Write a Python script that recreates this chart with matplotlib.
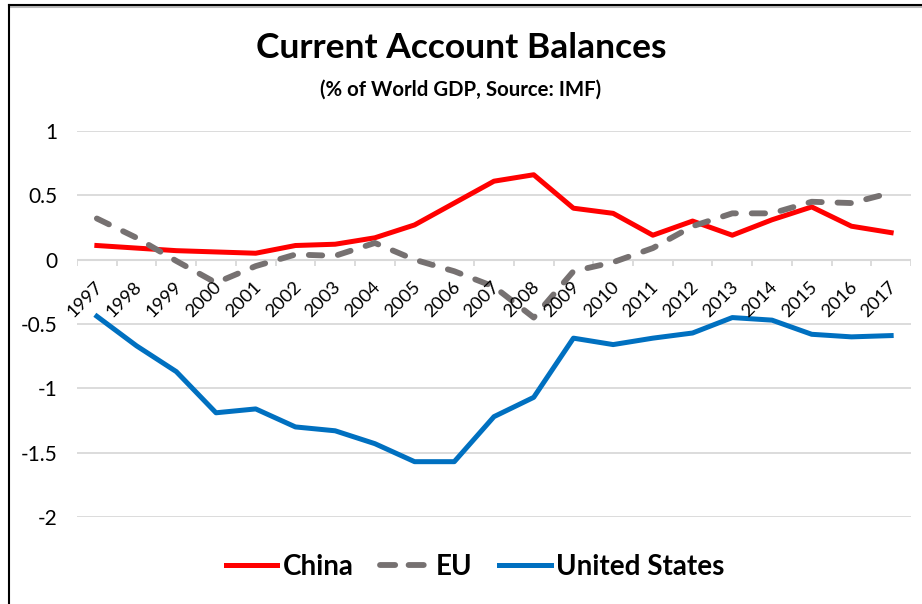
import numpy as np
import matplotlib
matplotlib.use("Agg")
import matplotlib.pyplot as plt
from matplotlib.lines import Line2D
from matplotlib.transforms import offset_copy

years = [str(y) for y in range(1997, 2018)]
china = [0.11, 0.09, 0.07, 0.06, 0.05, 0.11, 0.12, 0.17, 0.27, 0.44, 0.61,
         0.66, 0.40, 0.36, 0.19, 0.30, 0.19, 0.31, 0.41, 0.26, 0.21]
eu = [0.32, 0.17, -0.01, -0.18, -0.05, 0.04, 0.03, 0.13, 0.00, -0.09, -0.21,
      -0.45, -0.09, -0.02, 0.09, 0.26, 0.36, 0.36, 0.45, 0.44, 0.52]
us = [-0.44, -0.67, -0.87, -1.19, -1.16, -1.30, -1.33, -1.43, -1.57, -1.57, -1.22,
      -1.07, -0.61, -0.66, -0.61, -0.57, -0.45, -0.47, -0.58, -0.60, -0.59]
ytick_vals = [-2, -1.5, -1, -0.5, 0, 0.5, 1]
ytick_labels = ["-2", "-1.5", "-1", "-0.5", "0", "0.5", "1"]

plt.rcParams['font.family'] = ['Lato', 'DejaVu Sans']

W, H = 922, 604
fig = plt.figure(figsize=(W / 100, H / 100), dpi=100)
ax = fig.add_axes([77 / W, 1 - 517 / H, (911 - 77) / W, (517 - 131) / H])

x = np.arange(len(years))
ax.plot(x, china, color='#ff0000', lw=3.6, label='China', solid_joinstyle='round', zorder=3)
ax.plot(x, eu, color='#767171', lw=4.2, label='EU', dashes=(2.3, 2.7),
        dash_capstyle='round', zorder=3)
ax.plot(x, us, color='#0070c0', lw=3.6, label='United States', solid_joinstyle='round', zorder=3)

ax.set_xlim(-0.5, len(years) - 0.5)
ax.set_ylim(-2, 1)
ax.set_yticks(ytick_vals)
ax.set_yticklabels(ytick_labels, fontsize=15, color='black')
ax.tick_params(axis='y', length=0, pad=14)
ax.set_xticks([])
ax.grid(axis='y', color='#d9d9d9', lw=1.3)
ax.set_axisbelow(True)
for s in ax.spines.values():
    s.set_visible(False)

# category axis along zero
ax.axhline(0, color='#d9d9d9', lw=1.5, zorder=1)
ax.vlines(np.arange(len(years) + 1) - 0.5, -0.05, 0, color='#d9d9d9', lw=1.3, zorder=1)
lbl_tr = offset_copy(ax.transData, fig=fig, x=3, y=-25, units='dots')
for i, yr in enumerate(years):
    ax.text(i, 0, yr, transform=lbl_tr, rotation=45, rotation_mode='anchor',
            ha='right', va='center', fontsize=13.2, color='black')

fig.text(0.5, 1 - 48 / H, 'Current Account Balances', ha='center', va='center',
         fontsize=25.5, fontweight='bold')
fig.text(0.5, 1 - 90 / H, '(% of World GDP, Source: IMF)', ha='center', va='center',
         fontsize=14.7, fontweight='bold')

leg = fig.legend(loc='center', bbox_to_anchor=(475 / W, 1 - 567 / H), ncol=3, frameon=False,
                 prop={'weight': 'bold', 'size': 20}, handlelength=1.85, handletextpad=0.18,
                 columnspacing=0.95)
leg.get_lines()[1].set_dashes((2.6, 2.3))

# frame around the chart
fig.add_artist(Line2D([9 / W, 1], [1 - 7 / H] * 2, transform=fig.transFigure, color='#bbbbbb', lw=1.5))
fig.add_artist(Line2D([9 / W, 1], [1 - 5 / H] * 2, transform=fig.transFigure, color='black', lw=1.5))
fig.add_artist(Line2D([9 / W] * 2, [0, 1 - 5 / H], transform=fig.transFigure, color='black', lw=1.5))

fig.savefig('out.png', dpi=100)
